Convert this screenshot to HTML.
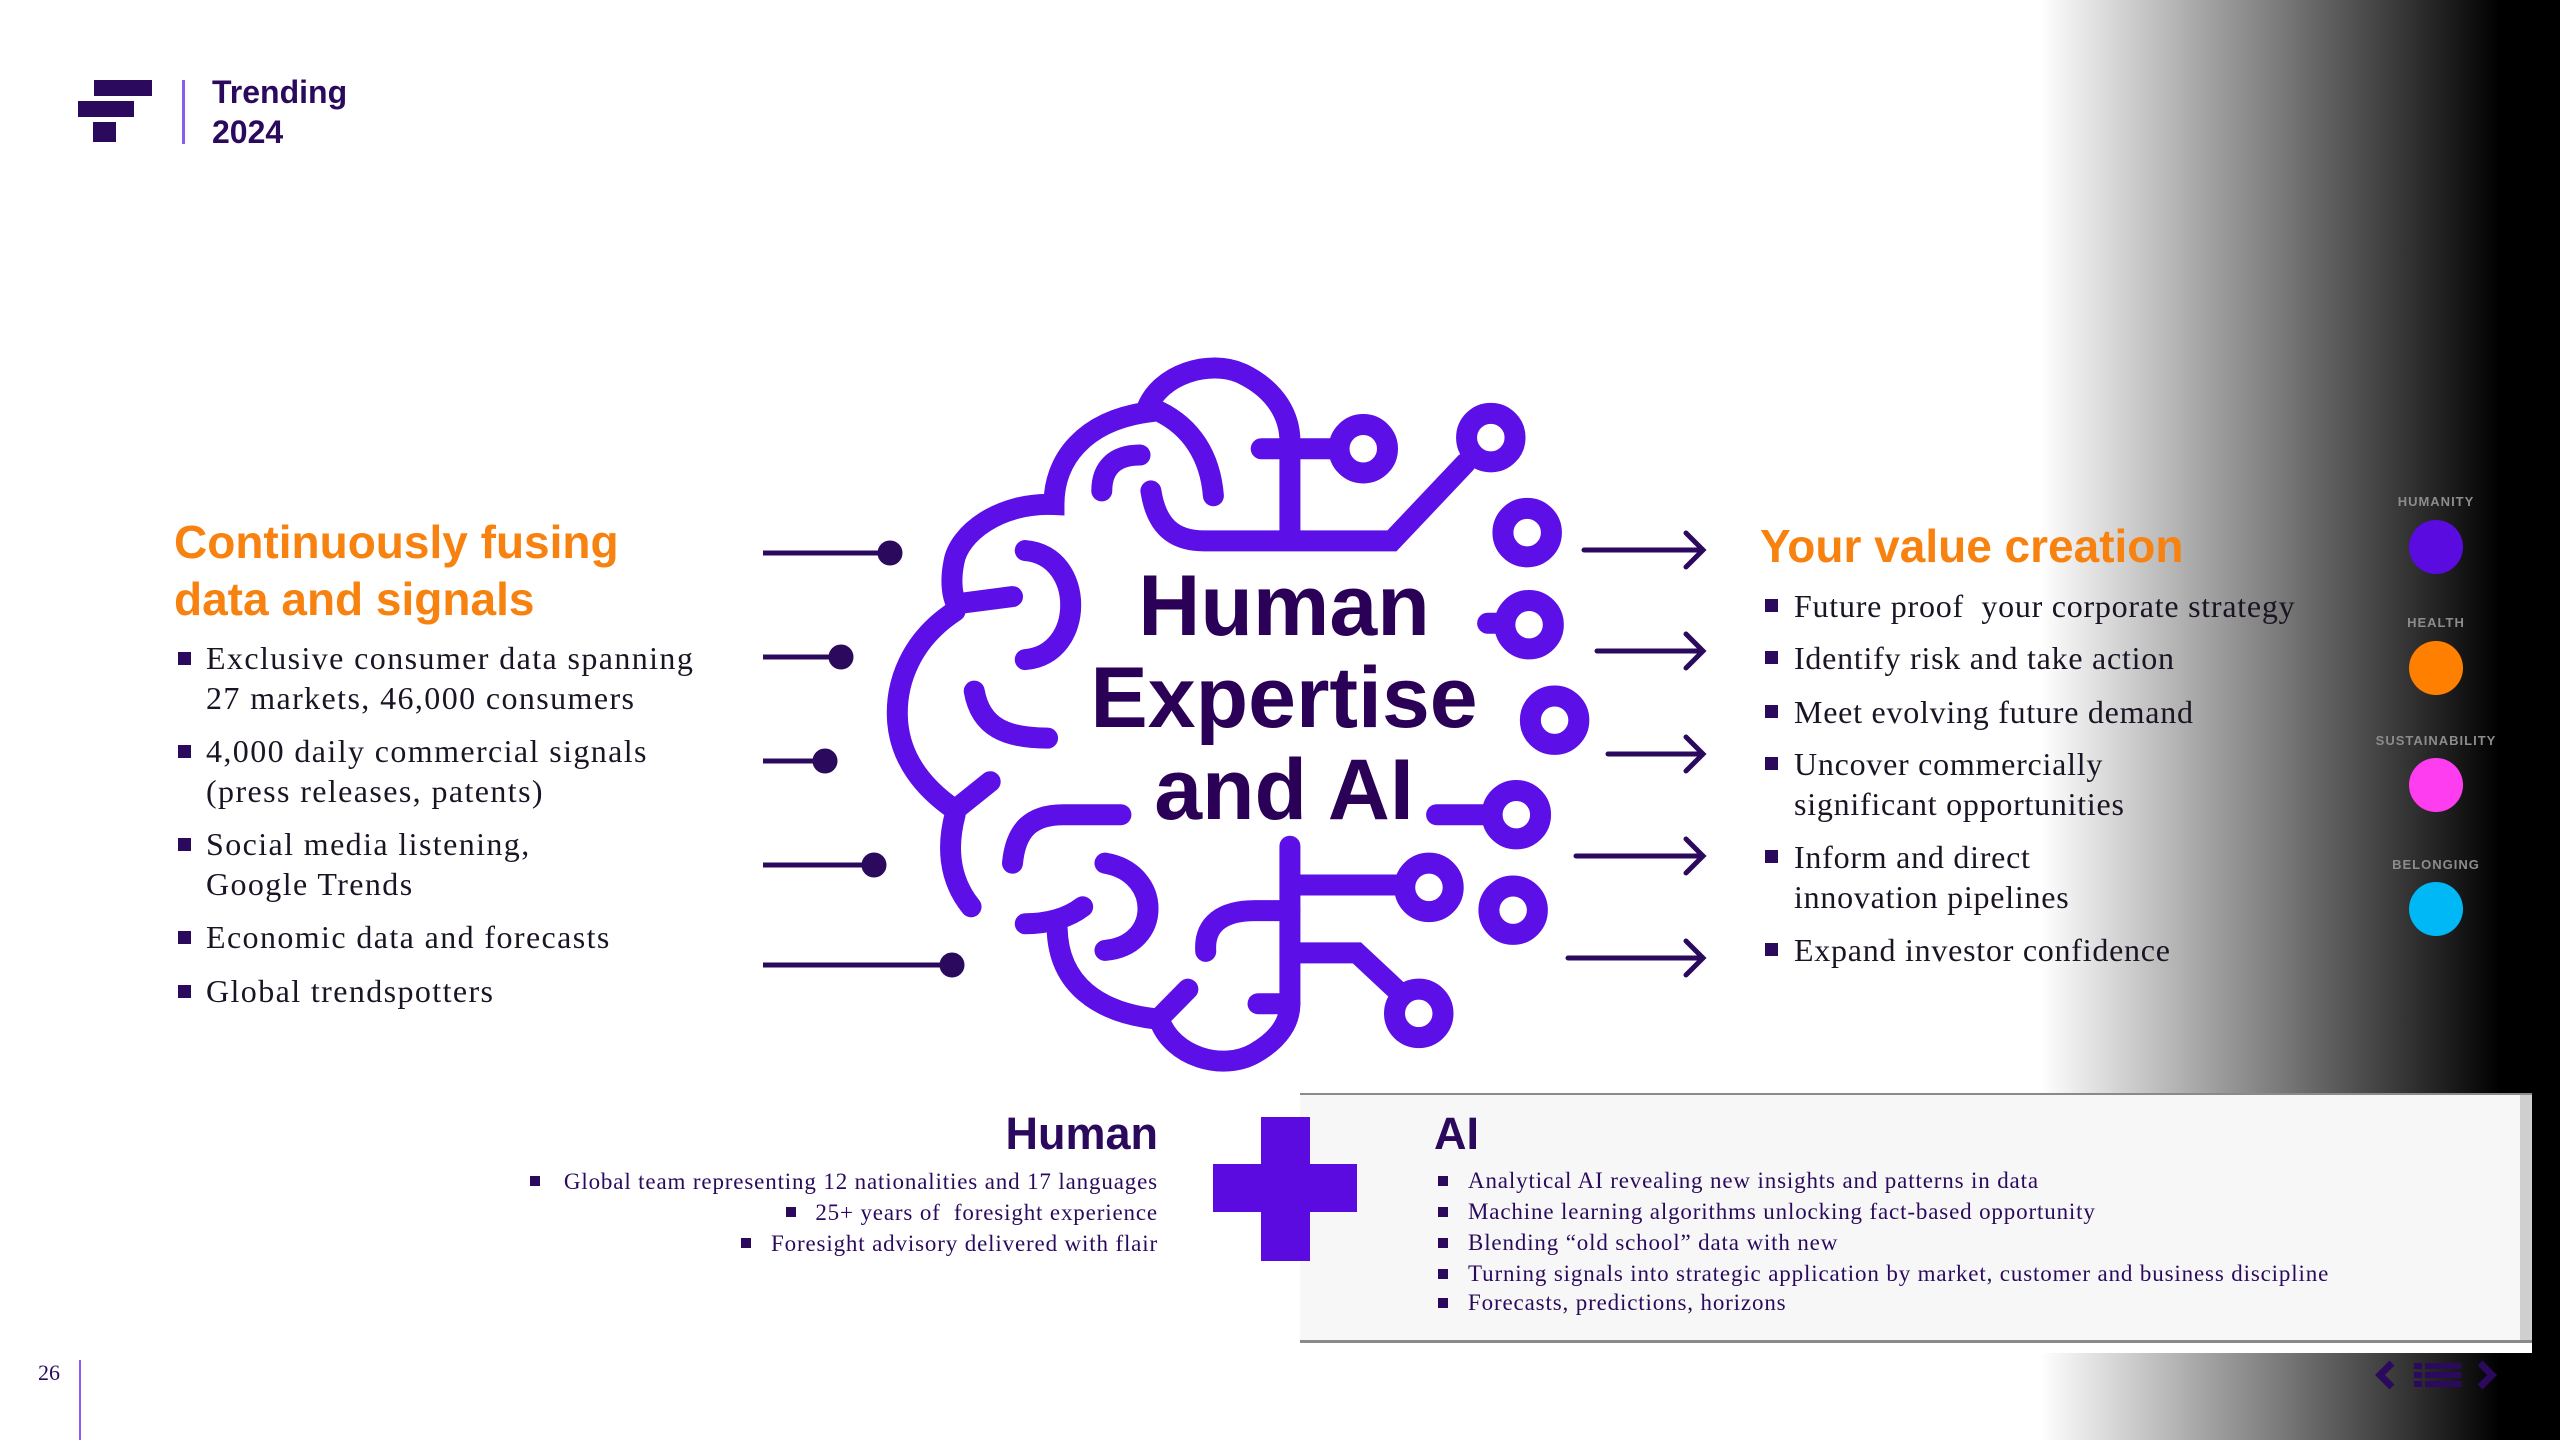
<!DOCTYPE html>
<html><head><meta charset="utf-8"><style>
html,body{margin:0;padding:0}
body{width:2560px;height:1440px;position:relative;overflow:hidden;background:linear-gradient(90deg,#fff 0,#fff 2040px,#000 2500px,#000 100%);font-family:"Liberation Sans",sans-serif}
.a{position:absolute;white-space:nowrap}
.h{font-weight:bold;color:#f7820f}
.s{font-family:"Liberation Serif",serif;color:#1a1424}
.L{letter-spacing:1.4px}
.R{letter-spacing:0.75px}
.B{letter-spacing:0.85px}
.b{position:absolute;width:13px;height:13px;background:#2b0a5e}
.lab{position:absolute;width:200px;left:2336px;text-align:center;font-size:13px;font-weight:bold;color:#8c8c8c;letter-spacing:1px}
.dot{position:absolute;width:54px;height:54px;border-radius:50%;left:2409px}
</style></head><body>
<!-- logo -->
<div class="a" style="left:94px;top:80px;width:58px;height:16px;background:#2b0a5e"></div>
<div class="a" style="left:78px;top:101px;width:56px;height:16px;background:#2b0a5e"></div>
<div class="a" style="left:93px;top:122px;width:23px;height:20px;background:#2b0a5e"></div>
<div class="a" style="left:182px;top:80px;width:3px;height:64px;background:#8a5cf0"></div>
<div class="a" style="left:212px;top:72px;font-size:32px;font-weight:bold;color:#2b0a5e;line-height:40px">Trending<br>2024</div>

<!-- left -->
<div class="a h" style="left:174px;top:514px;font-size:46px;line-height:57px">Continuously fusing<br>data and signals</div>
<div class="a s L" style="left:206px;top:638px;font-size:32px;line-height:40px">Exclusive consumer data spanning<br>27 markets, 46,000 consumers</div>
<div class="a s L" style="left:206px;top:731px;font-size:32px;line-height:40px">4,000 daily commercial signals<br>(press releases, patents)</div>
<div class="a s L" style="left:206px;top:824px;font-size:32px;line-height:40px">Social media listening,<br>Google Trends</div>
<div class="a s L" style="left:206px;top:917px;font-size:32px;line-height:40px">Economic data and forecasts</div>
<div class="a s L" style="left:206px;top:971px;font-size:32px;line-height:40px">Global trendspotters</div>
<div class="b" style="left:178px;top:652px"></div>
<div class="b" style="left:178px;top:745px"></div>
<div class="b" style="left:178px;top:838px"></div>
<div class="b" style="left:178px;top:931px"></div>
<div class="b" style="left:178px;top:985px"></div>

<!-- right -->
<div class="a h" style="left:1760px;top:518px;font-size:46px;line-height:56px">Your value creation</div>
<div class="a s R" style="left:1794px;top:586px;font-size:32px;line-height:40px">Future proof&nbsp; your corporate strategy</div>
<div class="a s R" style="left:1794px;top:638px;font-size:32px;line-height:40px">Identify risk and take action</div>
<div class="a s R" style="left:1794px;top:692px;font-size:32px;line-height:40px">Meet evolving future demand</div>
<div class="a s R" style="left:1794px;top:744px;font-size:32px;line-height:40px">Uncover commercially<br>significant opportunities</div>
<div class="a s R" style="left:1794px;top:837px;font-size:32px;line-height:40px">Inform and direct<br>innovation pipelines</div>
<div class="a s R" style="left:1794px;top:930px;font-size:32px;line-height:40px">Expand investor confidence</div>
<div class="b" style="left:1765px;top:599px"></div>
<div class="b" style="left:1765px;top:651px"></div>
<div class="b" style="left:1765px;top:705px"></div>
<div class="b" style="left:1765px;top:757px"></div>
<div class="b" style="left:1765px;top:850px"></div>
<div class="b" style="left:1765px;top:943px"></div>

<!-- categories -->
<div class="lab" style="top:494px">HUMANITY</div><div class="dot" style="top:520px;background:#5a0be0"></div>
<div class="lab" style="top:615px">HEALTH</div><div class="dot" style="top:641px;background:#ff8000"></div>
<div class="lab" style="top:733px">SUSTAINABILITY</div><div class="dot" style="top:758px;background:#ff3df0"></div>
<div class="lab" style="top:857px">BELONGING</div><div class="dot" style="top:882px;background:#00b8f5"></div>

<!-- connectors -->
<svg class="a" style="left:0;top:0" width="2560" height="1440">
<g stroke="#2b0a5e" stroke-width="5" fill="#2b0a5e">
<line x1="763" y1="553" x2="890" y2="553"/><circle cx="890" cy="553" r="10"/>
<line x1="763" y1="657" x2="841" y2="657"/><circle cx="841" cy="657" r="10"/>
<line x1="763" y1="761" x2="825" y2="761"/><circle cx="825" cy="761" r="10"/>
<line x1="763" y1="865" x2="874" y2="865"/><circle cx="874" cy="865" r="10"/>
<line x1="763" y1="965" x2="952" y2="965"/><circle cx="952" cy="965" r="10"/>
</g>
<g stroke="#2b0a5e" stroke-width="5" fill="none" stroke-linecap="round">
<path d="M1584 550H1700M1686 533l17 17-17 17"/>
<path d="M1597 651H1700M1686 634l17 17-17 17"/>
<path d="M1608 754H1700M1686 737l17 17-17 17"/>
<path d="M1576 856H1700M1686 839l17 17-17 17"/>
<path d="M1568 958H1700M1686 941l17 17-17 17"/>
</g>
</svg>

<!-- brain -->
<svg class="a" style="left:700px;top:330px" width="1000" height="760" viewBox="0 0 1568 1568" preserveAspectRatio="none">
<g fill="none" stroke="#5c0fe6" stroke-width="21" stroke-linecap="round">
<path vector-effect="non-scaling-stroke" d="M700 165 C720 90 800 60 850 90 C905 125 925 180 925 230 L925 415"/>
<path vector-effect="non-scaling-stroke" d="M710 168 C600 185 555 270 555 360 C470 355 405 420 398 480 C392 520 396 550 402 565"/>
<path vector-effect="non-scaling-stroke" d="M402 565 L490 550"/>
<path vector-effect="non-scaling-stroke" d="M400 580 C330 640 305 730 310 810 C315 885 350 945 400 990"/>
<path vector-effect="non-scaling-stroke" d="M400 990 L455 932"/>
<path vector-effect="non-scaling-stroke" d="M400 1000 C388 1060 388 1130 425 1190"/>
<path vector-effect="non-scaling-stroke" d="M510 455 C605 465 605 670 510 680"/>
<path vector-effect="non-scaling-stroke" d="M430 745 C440 820 480 842 545 842"/>
<path vector-effect="non-scaling-stroke" d="M630 332 C630 285 650 258 690 258"/>
<path vector-effect="non-scaling-stroke" d="M720 168 C770 200 800 260 805 342"/>
<path vector-effect="non-scaling-stroke" d="M707 332 C715 400 740 435 790 435 L1085 435 L1200 275"/>
<path vector-effect="non-scaling-stroke" d="M880 245 L990 245"/>
<path vector-effect="non-scaling-stroke" d="M490 1100 C495 1030 520 1000 570 1000 L660 1000"/>
<path vector-effect="non-scaling-stroke" d="M635 1100 C725 1120 725 1270 635 1280"/>
<path vector-effect="non-scaling-stroke" d="M510 1225 C550 1225 580 1210 600 1190"/>
<path vector-effect="non-scaling-stroke" d="M560 1235 C562 1350 625 1410 720 1422 C740 1500 820 1530 870 1492 C910 1462 925 1425 925 1390 L925 1065"/>
<path vector-effect="non-scaling-stroke" d="M720 1420 L765 1360"/>
<path vector-effect="non-scaling-stroke" d="M875 1390 L925 1390"/>
<path vector-effect="non-scaling-stroke" d="M925 1145 L1100 1145"/>
<path vector-effect="non-scaling-stroke" d="M793 1282 C790 1225 820 1198 870 1198 L925 1198"/>
<path vector-effect="non-scaling-stroke" d="M925 1285 L1030 1285 L1095 1365"/>
<path vector-effect="non-scaling-stroke" d="M1155 1000 L1235 1000"/>
<path vector-effect="non-scaling-stroke" d="M1235 605 L1255 605"/>
</g>
<g fill="none" stroke="#5c0fe6" stroke-width="21">
<ellipse vector-effect="non-scaling-stroke" cx="1040" cy="245" rx="38" ry="50"/>
<ellipse vector-effect="non-scaling-stroke" cx="1240" cy="222" rx="38" ry="50"/>
<ellipse vector-effect="non-scaling-stroke" cx="1297" cy="418" rx="38" ry="50"/>
<ellipse vector-effect="non-scaling-stroke" cx="1300" cy="608" rx="38" ry="50"/>
<ellipse vector-effect="non-scaling-stroke" cx="1340" cy="805" rx="38" ry="50"/>
<ellipse vector-effect="non-scaling-stroke" cx="1280" cy="1000" rx="38" ry="50"/>
<ellipse vector-effect="non-scaling-stroke" cx="1143" cy="1150" rx="38" ry="50"/>
<ellipse vector-effect="non-scaling-stroke" cx="1275" cy="1197" rx="38" ry="50"/>
<ellipse vector-effect="non-scaling-stroke" cx="1127" cy="1410" rx="38" ry="50"/>
</g>
</svg>
<div class="a" style="left:1084px;top:560px;width:400px;text-align:center;font-size:86px;font-weight:bold;color:#2b0057;line-height:92px">Human<br>Expertise<br>and AI</div>

<!-- bottom box -->
<div class="a" style="left:1300px;top:1093px;width:1232px;height:250px;background:#f7f7f7;border-top:2px solid #8a8a8a;border-bottom:3px solid #8a8a8a;box-sizing:border-box"></div>
<div class="a" style="left:2520px;top:1095px;width:12px;height:245px;background:#cfcfcf"></div>
<div class="a" style="left:1300px;top:1343px;width:1232px;height:10px;background:#fff"></div>

<div class="a" style="left:1261px;top:1117px;width:49px;height:144px;background:#5b0be0"></div>
<div class="a" style="left:1213px;top:1164px;width:144px;height:48px;background:#5b0be0"></div>

<div class="a" style="left:900px;width:258px;text-align:right;top:1106px;font-size:45px;font-weight:bold;color:#2b0a5e;line-height:56px">Human</div>
<div class="a s B" style="right:1402px;top:1169px;font-size:23px;line-height:26px;color:#2b0a5e">Global team representing 12 nationalities and 17 languages</div>
<div class="a s B" style="right:1402px;top:1200px;font-size:23px;line-height:26px;color:#2b0a5e">25+ years of&nbsp; foresight experience</div>
<div class="a s B" style="right:1402px;top:1231px;font-size:23px;line-height:26px;color:#2b0a5e">Foresight advisory delivered with flair</div>
<div class="b" style="left:530px;top:1176px;width:10px;height:10px"></div>
<div class="b" style="left:786px;top:1207px;width:10px;height:10px"></div>
<div class="b" style="left:741px;top:1238px;width:10px;height:10px"></div>

<div class="a" style="left:1434px;top:1106px;font-size:45px;font-weight:bold;color:#2b0a5e;line-height:56px">AI</div>
<div class="a s B" style="left:1468px;top:1168px;font-size:23px;line-height:26px;color:#2b0a5e">Analytical AI revealing new insights and patterns in data</div>
<div class="a s B" style="left:1468px;top:1199px;font-size:23px;line-height:26px;color:#2b0a5e">Machine learning algorithms unlocking fact-based opportunity</div>
<div class="a s B" style="left:1468px;top:1230px;font-size:23px;line-height:26px;color:#2b0a5e">Blending “old school” data with new</div>
<div class="a s B" style="left:1468px;top:1261px;font-size:23px;line-height:26px;color:#2b0a5e">Turning signals into strategic application by market, customer and business discipline</div>
<div class="a s B" style="left:1468px;top:1290px;font-size:23px;line-height:26px;color:#2b0a5e">Forecasts, predictions, horizons</div>
<div class="b" style="left:1438px;top:1176px;width:10px;height:10px"></div>
<div class="b" style="left:1438px;top:1207px;width:10px;height:10px"></div>
<div class="b" style="left:1438px;top:1238px;width:10px;height:10px"></div>
<div class="b" style="left:1438px;top:1269px;width:10px;height:10px"></div>
<div class="b" style="left:1438px;top:1298px;width:10px;height:10px"></div>

<!-- footer -->
<div class="a s" style="left:38px;top:1360px;font-size:22px;color:#2b0a5e">26</div>
<div class="a" style="left:79px;top:1360px;width:2px;height:80px;background:#8a5cf0"></div>
<svg class="a" style="left:2370px;top:1355px" width="140" height="40">
<path d="M22 8 L10 20 L22 32" stroke="#2b0a5e" stroke-width="7" fill="none"/>
<g fill="#2b0a5e"><rect x="44" y="8" width="8" height="6"/><rect x="55" y="8" width="36" height="6"/><rect x="44" y="17" width="8" height="6"/><rect x="55" y="17" width="36" height="6"/><rect x="44" y="26" width="8" height="6"/><rect x="55" y="26" width="36" height="6"/></g>
<path d="M110 8 L122 20 L110 32" stroke="#2b0a5e" stroke-width="7" fill="none"/>
</svg>
</body></html>
